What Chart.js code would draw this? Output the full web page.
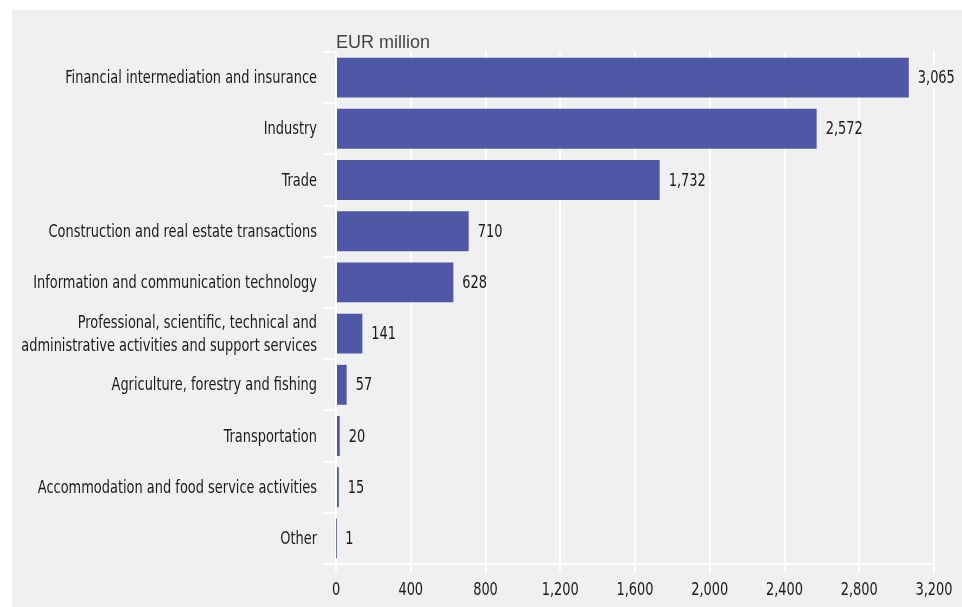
<!DOCTYPE html>
<html>
<head>
<meta charset="utf-8">
<script src="https://cdn.jsdelivr.net/npm/chart.js@4/dist/chart.umd.min.js"></script>
<style>
  html, body { margin: 0; padding: 0; background: #ffffff; }
  #wrap { position: absolute; left: 12px; top: 10px; width: 950px; height: 597px; background: #f0f0f0; }
</style>
</head>
<body>
<div id="wrap"><canvas id="chart" width="950" height="597"></canvas></div>
<script>
const categories = [
    "Financial intermediation and insurance",
    "Industry",
    "Trade",
    "Construction and real estate transactions",
    "Information and communication technology",
    ["Professional, scientific, technical and", "administrative activities and support services"],
    "Agriculture, forestry and fishing",
    "Transportation",
    "Accommodation and food service activities",
    "Other"
];
const values = [3065, 2572, 1732, 710, 628, 141, 57, 20, 15, 1];
const xTicks = [0, 400, 800, 1200, 1600, 2000, 2400, 2800, 3200];
const unitLabel = "EUR million";

const FONT = "'DejaVu Sans Condensed', sans-serif";
const SQUEEZE = 0.8;   // reference font is a narrow one

function narrowText(ctx, text, x, y){
    ctx.save();
    ctx.translate(x, y);
    ctx.scale(SQUEEZE, 1);
    ctx.fillText(text, 0, 0);
    ctx.restore();
}

// category labels, value labels, unit text
const labelPlugin = {
    id: "labels",
    afterDraw(chart){
        const ctx = chart.ctx;
        const yScale = chart.scales.y;
        const meta = chart.getDatasetMeta(0);
        ctx.save();
        ctx.font = "18px " + FONT;
        ctx.fillStyle = "#1a1a1a";
        ctx.textBaseline = "middle";

        ctx.textAlign = "right";
        categories.forEach((c, i) => {
            const y = yScale.getPixelForTick(i);
            const lines = Array.isArray(c) ? c : [c];
            const lh = 23;
            lines.forEach((line, j) => {
                narrowText(ctx, line, chart.chartArea.left - 19, y + 1 + (j - (lines.length - 1) / 2) * lh);
            });
        });

        ctx.textAlign = "left";
        meta.data.forEach((bar, i) => {
            narrowText(ctx, values[i].toLocaleString("en-US"), bar.x + 9, bar.y + 1);
        });

        ctx.font = "18px 'Liberation Sans', sans-serif";
        ctx.fillStyle = "#444444";
        ctx.textBaseline = "alphabetic";
        ctx.fillText(unitLabel, chart.chartArea.left, 38);
        ctx.restore();
    }
};

// x tick labels drawn narrow as well
const xLabelPlugin = {
    id: "xlabels",
    afterDraw(chart){
        const ctx = chart.ctx;
        const xScale = chart.scales.x;
        ctx.save();
        ctx.font = "18px " + FONT;
        ctx.fillStyle = "#1a1a1a";
        ctx.textBaseline = "middle";
        ctx.textAlign = "center";
        xTicks.forEach(v => {
            narrowText(ctx, v.toLocaleString("en-US"), xScale.getPixelForValue(v), chart.chartArea.bottom + 26);
        });
        ctx.restore();
    }
};

new Chart(document.getElementById("chart"), {
    type: "bar",
    data: {
        labels: categories,
        datasets: [{
            data: values,
            backgroundColor: "#4e58a7",
            borderWidth: 0,
            barPercentage: 0.78,
            categoryPercentage: 1
        }]
    },
    options: {
        indexAxis: "y",
        responsive: false,
        animation: false,
        layout: { padding: { top: 42, right: 28, bottom: 0, left: 0 } },
        plugins: { legend: { display: false }, tooltip: { enabled: false } },
        scales: {
            x: {
                min: 0,
                max: 3200,
                afterBuildTicks(axis){ axis.ticks = xTicks.map(v => ({ value: v })); },
                afterFit(axis){ axis.height = 43; },
                grid: { color: "#ffffff", lineWidth: 2, tickLength: 8, tickColor: "#ffffff" },
                border: { display: true, color: "#ffffff", width: 2 },
                ticks: { display: false }
            },
            y: {
                afterFit(axis){ axis.width = 324; },
                grid: { drawOnChartArea: false, offset: true, color: "#ffffff", lineWidth: 2, tickLength: 13 },
                border: { display: false },
                ticks: { display: false }
            }
        }
    },
    plugins: [labelPlugin, xLabelPlugin]
});
</script>
</body>
</html>
